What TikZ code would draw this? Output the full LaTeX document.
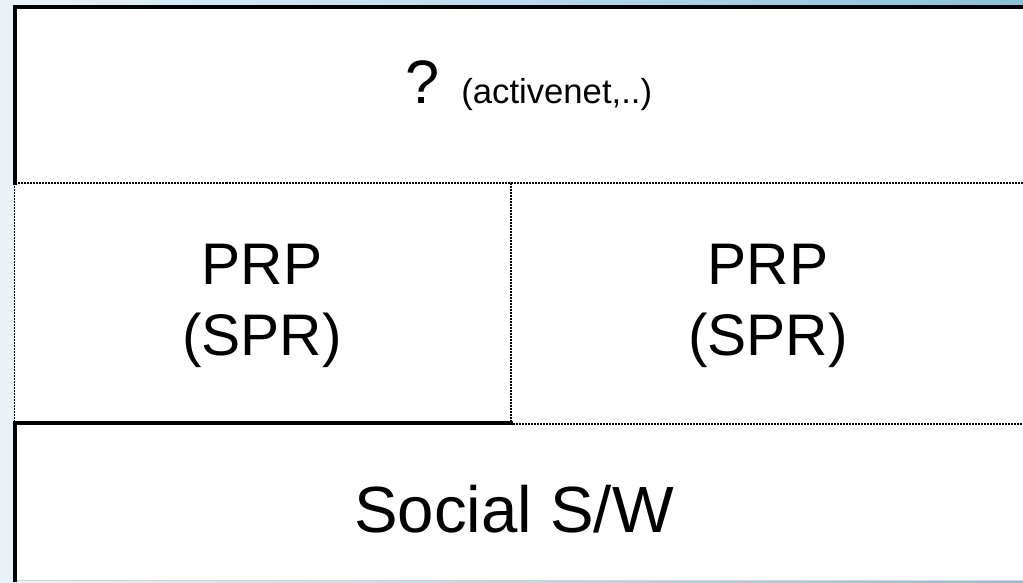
\documentclass[tikz,border=0pt]{standalone}
\usepackage{fontspec}
\setmainfont{Liberation Sans}
\usetikzlibrary{positioning}
\definecolor{bgpale}{HTML}{EAF2F9}
\definecolor{bgblue}{HTML}{8DC0D9}
\tikzset{solidedge/.style={line width=2.6pt, line cap=rect},
  dotedge/.style={line width=0.9pt, dash pattern=on 1.5pt off 0.75pt},
  layertext/.style={inner sep=0pt, align=center}}

\begin{document}
\begin{tikzpicture}[x=0.75pt,y=-0.75pt]
  \useasboundingbox (0,0) rectangle (1023,582);
  \shade[left color=bgpale, right color=bgblue] (0,0) rectangle (1023,582);
  \fill[white] (14,7) rectangle (1023,580);
  \draw[gray!35, line width=0.75pt] (14,580.5) -- (1023,580.5);
  % middle layer
  \draw[dotedge] (14.5,183) rectangle (511,423);
  \draw[dotedge] (511,183) rectangle (1024,424);
  % solid edges
  \draw[solidedge] (1023,7) -- (15,7) -- (15,183);
  \draw[solidedge] (511,423) -- (15,423) -- (15,580);
  % texts
  \node[layertext, anchor=base] (apps) at (529,103)
    {\fontsize{46}{46}\selectfont ?\hspace{16pt}\fontsize{26}{26}\selectfont (activenet,..)};
  \node[layertext, font=\fontsize{44}{53}\selectfont] (prpl) at (262,306) {PRP\\(SPR)};
  \node[layertext, font=\fontsize{44}{53}\selectfont] (prpr) at (768,306) {PRP\\(SPR)};
  \node[layertext, font=\fontsize{49}{49}\selectfont, anchor=base] (social) at (514,532) {Social S/W};
\end{tikzpicture}
\end{document}
